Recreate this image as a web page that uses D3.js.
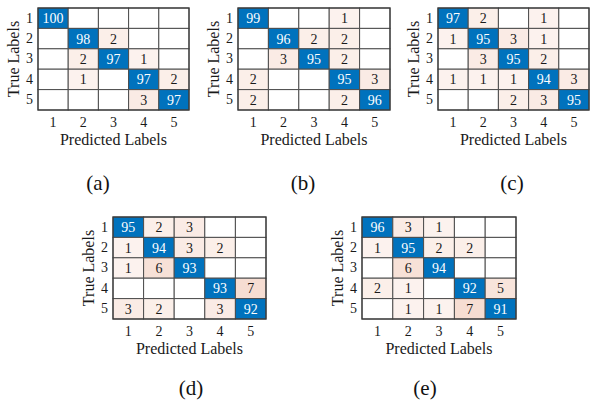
<!DOCTYPE html>
<html>
<head>
<meta charset="utf-8">
<script src="https://cdn.jsdelivr.net/npm/d3@7"></script>
<style>
  html, body { margin: 0; padding: 0; background: #fff; }
  svg { display: block; }
  svg text { font-family: "Liberation Serif", "Times New Roman", serif; }
</style>
</head>
<body>
<svg id="chart" width="590" height="407"></svg>
<script>
// Class labels shared by every confusion matrix
const classLabels = ["1", "2", "3", "4", "5"];

// Confusion matrices (rows = true class, columns = predicted class), in percent
const matrixA = [
  [100, 0, 0, 0, 0],
  [0, 98, 2, 0, 0],
  [0, 2, 97, 1, 0],
  [0, 1, 0, 97, 2],
  [0, 0, 0, 3, 97]
];
const matrixB = [
  [99, 0, 0, 1, 0],
  [0, 96, 2, 2, 0],
  [0, 3, 95, 2, 0],
  [2, 0, 0, 95, 3],
  [2, 0, 0, 2, 96]
];
const matrixC = [
  [97, 2, 0, 1, 0],
  [1, 95, 3, 1, 0],
  [0, 3, 95, 2, 0],
  [1, 1, 1, 94, 3],
  [0, 0, 2, 3, 95]
];
const matrixD = [
  [95, 2, 3, 0, 0],
  [1, 94, 3, 2, 0],
  [1, 6, 93, 0, 0],
  [0, 0, 0, 93, 7],
  [3, 2, 0, 3, 92]
];
const matrixE = [
  [96, 3, 1, 0, 0],
  [1, 95, 2, 2, 0],
  [0, 6, 94, 0, 0],
  [2, 1, 0, 92, 5],
  [0, 1, 1, 7, 91]
];

const captions = ["(a)", "(b)", "(c)", "(d)", "(e)"];
const xTitle = "Predicted Labels";
const yTitle = "True Labels";

const SERIF = "Liberation Serif, Times New Roman, serif";

// Placement of each matrix on the page
const panels = [
  { m: matrixA, x: 38,  y: 8,   w: 151, h: 102, cap: [98, 183] },
  { m: matrixB, x: 238, y: 8,   w: 152, h: 102, cap: [303, 183] },
  { m: matrixC, x: 438, y: 8,   w: 151, h: 102, cap: [512, 183] },
  { m: matrixD, x: 113, y: 217, w: 153, h: 102, cap: [191, 388] },
  { m: matrixE, x: 362, y: 217, w: 154, h: 102, cap: [425, 388] }
];

const svg = d3.select("#chart").attr("font-family", SERIF);
const diagColor = "#0072bd";
const offColor = d3.scaleLinear().domain([1, 7]).range(["#fcf2ee", "#f6ddd2"]).clamp(true);

panels.forEach((p, i) => {
  const g = svg.append("g").attr("transform", `translate(${p.x},${p.y})`);
  const xs = d3.scaleBand().domain(classLabels).range([0, p.w]);
  const ys = d3.scaleBand().domain(classLabels).range([0, p.h]);

  const cells = [];
  p.m.forEach((row, r) => row.forEach((v, c) => cells.push({ r, c, v })));

  g.selectAll("rect.cell").data(cells).join("rect")
    .attr("class", "cell")
    .attr("x", d => xs(classLabels[d.c]))
    .attr("y", d => ys(classLabels[d.r]))
    .attr("width", xs.bandwidth())
    .attr("height", ys.bandwidth())
    .attr("fill", d => d.r === d.c ? diagColor : (d.v > 0 ? offColor(d.v) : "#fff"))
    .attr("stroke", "#4d4d4d")
    .attr("stroke-width", 1);

  g.selectAll("text.val").data(cells.filter(d => d.v > 0)).join("text")
    .attr("class", "val")
    .attr("x", d => xs(classLabels[d.c]) + xs.bandwidth() / 2)
    .attr("y", d => ys(classLabels[d.r]) + ys.bandwidth() / 2)
    .attr("dy", "0.35em")
    .attr("text-anchor", "middle")
    .attr("font-family", SERIF)
    .attr("font-size", 14)
    .attr("fill", d => d.r === d.c ? "#fff" : "#1a1a1a")
    .text(d => d.v);

  // Outer frame
  g.append("rect")
    .attr("width", p.w).attr("height", p.h)
    .attr("fill", "none").attr("stroke", "#3a3a3a").attr("stroke-width", 1.2);

  // Axes: tick labels only
  const xAxis = g.append("g").attr("transform", `translate(0,${p.h})`)
    .call(d3.axisBottom(xs).tickSize(0).tickPadding(7));
  const yAxis = g.append("g")
    .call(d3.axisLeft(ys).tickSize(0).tickPadding(5));
  [xAxis, yAxis].forEach(a => {
    a.attr("font-family", SERIF);
    a.select(".domain").remove();
    a.selectAll("text").attr("font-size", 14).attr("fill", "#1a1a1a")
      .attr("font-family", SERIF);
  });

  g.append("text")
    .attr("x", p.w / 2).attr("y", p.h + 35)
    .attr("text-anchor", "middle").attr("font-size", 16).attr("fill", "#1a1a1a")
    .attr("font-family", SERIF)
    .text(xTitle);

  g.append("text")
    .attr("transform", `translate(-19,${p.h / 2}) rotate(-90)`)
    .attr("text-anchor", "middle").attr("font-size", 16).attr("fill", "#1a1a1a")
    .attr("font-family", SERIF)
    .text(yTitle);

  svg.append("text")
    .attr("x", p.cap[0]).attr("y", p.cap[1])
    .attr("dy", "0.35em")
    .attr("text-anchor", "middle").attr("font-size", 21).attr("fill", "#111")
    .attr("font-family", SERIF)
    .text(captions[i]);
});
</script>
</body>
</html>
